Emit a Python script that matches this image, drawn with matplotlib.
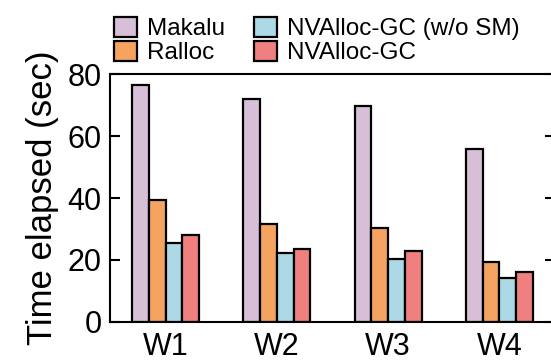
import numpy as np
import matplotlib.pyplot as plt

plt.rcParams["font.family"] = ["Liberation Sans", "DejaVu Sans"]

workloads = ["W1", "W2", "W3", "W4"]
series = ["Makalu", "Ralloc", "NVAlloc-GC (w/o SM)", "NVAlloc-GC"]
makalu = [76.5, 71.9, 69.8, 55.8]
ralloc = [39.4, 31.6, 30.2, 19.3]
nvalloc_nosm = [25.6, 22.4, 20.2, 14.1]
nvalloc_gc = [28.2, 23.4, 23.0, 16.2]
colors = ["#d8bfd8", "#f4a460", "#add8e6", "#f08080"]

fig = plt.figure(figsize=(5.51, 3.63), dpi=100)
ax = fig.add_axes([0.1996, 0.113, 0.8076, 0.683])

x = np.arange(len(workloads))
w = 0.151
for i, (vals, name, c) in enumerate(zip([makalu, ralloc, nvalloc_nosm, nvalloc_gc], series, colors)):
    ax.bar(x + (i - 1.5) * w, vals, w, color=c, edgecolor="black", linewidth=1.6, label=name)

ax.set_xlim(-0.5, 3.5)
ax.set_ylim(0, 80)
ax.set_yticks([0, 20, 40, 60, 80])
ax.set_xticks(x)
ax.set_xticklabels(workloads)
ax.tick_params(axis="y", direction="in", length=7, width=1.5, labelsize=22, pad=6, right=True)
ax.tick_params(axis="x", length=0, labelsize=22, pad=7)
ax.set_ylabel("Time elapsed (sec)", fontsize=25, labelpad=6)
for s in ax.spines.values():
    s.set_linewidth(1.5)

h, l = ax.get_legend_handles_labels()
fig.legend(h, l, loc="upper left", bbox_to_anchor=(0.176, 1.0), ncol=2, frameon=False,
           fontsize=17.5, handlelength=0.95, handleheight=0.9, handletextpad=0.4,
           columnspacing=1.2, labelspacing=0.02, borderpad=0.2)

plt.savefig("out.png", dpi=100)
